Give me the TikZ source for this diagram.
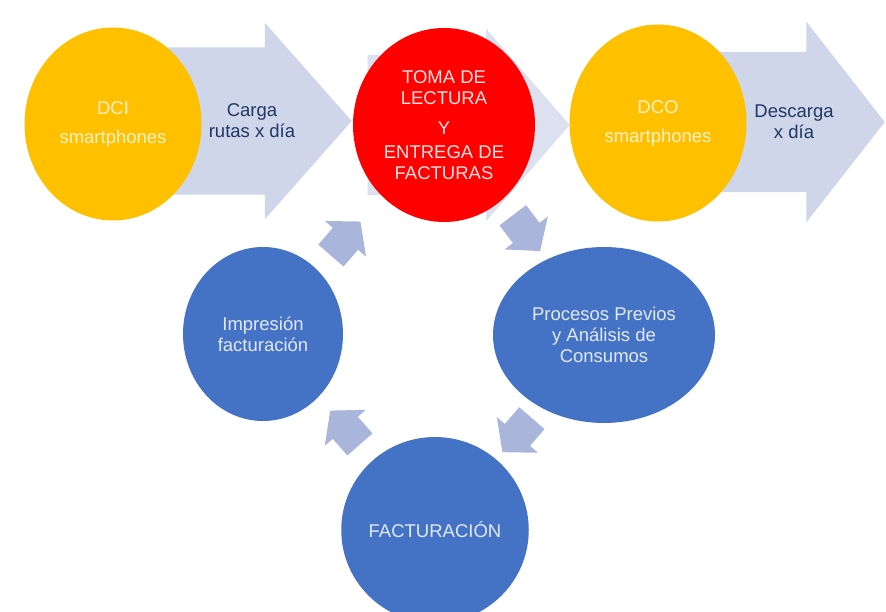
\documentclass[tikz,border=0pt]{standalone}
\usepackage{fontspec}
\setmainfont{Liberation Sans}
\usetikzlibrary{shapes.geometric, shapes.arrows}
\definecolor{gold}{HTML}{FFC000}
\definecolor{signred}{HTML}{FF0000}
\definecolor{officeblue}{HTML}{4472C4}
\definecolor{paleyellow}{HTML}{FFF2C8}
\definecolor{palered}{HTML}{FFE4E4}
\definecolor{paleblue}{HTML}{E2E9F6}
\definecolor{lavender}{HTML}{D0D6EA}
\definecolor{lavenderlight}{HTML}{DCE1F0}
\definecolor{arrowblue}{HTML}{A9B5DA}
\definecolor{navy}{HTML}{1F3864}

\begin{document}
\begin{tikzpicture}[
    x=1pt, y=-1pt,
    every node/.style={font=\fontsize{18.5}{21}\selectfont, inner sep=0pt, align=center},
    yellowcirc/.style={ellipse, fill=gold, text=paleyellow},
    redcirc/.style={ellipse, fill=signred, text=palered},
    bluecirc/.style={ellipse, fill=officeblue, text=paleblue},
    bigarrow/.style={single arrow, fill=lavender, anchor=tip, inner xsep=0pt},
    smallarr/.style={single arrow, fill=arrowblue, minimum height=45, minimum width=54,
        inner xsep=0pt, inner ysep=16.5, single arrow head extend=10.5,
        single arrow tip angle=100, sloped, allow upside down},
    lbl/.style={text=navy},
]
\useasboundingbox (0,0) rectangle (886,612);
\fill[white] (0,0) rectangle (886,612);
\clip (0,0) rectangle (886,612);

% top row: big arrows behind the circles
\node[bigarrow, minimum height=192, minimum width=196, inner ysep=73.5,
    single arrow head extend=24.5, single arrow tip angle=97] (carga) at (352,121) {};
\node[bigarrow, fill=lavenderlight, minimum height=202, minimum width=192, inner ysep=70,
    single arrow head extend=26, single arrow tip angle=98] (paso) at (570,125) {};
\node[bigarrow, minimum height=185, minimum width=200, inner ysep=70,
    single arrow head extend=30, single arrow tip angle=104] (descarga) at (885,122) {};

\node[yellowcirc, minimum width=177, minimum height=193] (dci) at (113,124)
    {DCI\\[8pt]smartphones};
\node[redcirc, minimum width=182, minimum height=194] (toma) at (444,125)
    {TOMA DE\\LECTURA\\[9pt]Y\\[3pt]ENTREGA DE\\FACTURAS};
\node[yellowcirc, minimum width=177, minimum height=197] (dco) at (658,123)
    {DCO\\[8pt]smartphones};

\node[lbl] (cargatxt) at (252,121) {Carga\\rutas x día};
\node[lbl] (descargatxt) at (794,122) {Descarga\\x día};

% cycle
\node[bluecirc, minimum width=222, minimum height=176] (proc) at (604,335)
    {Procesos Previos\\y Análisis de\\Consumos};
\node[bluecirc, minimum width=185, minimum height=186] (fact) at (435,530) {FACTURACIÓN};
\node[bluecirc, minimum width=160, minimum height=174] (impr) at (263,334)
    {Impresión\\facturación};

\path (impr) -- node[smallarr, pos=.36] (a1) {} (toma);
\path (toma) -- node[smallarr, pos=.46] (a2) {} (proc);
\path (proc) -- node[smallarr, pos=.43] (a3) {} (fact);
\path (fact) -- node[smallarr, pos=.43] (a4) {} (impr);
\end{tikzpicture}
\end{document}
